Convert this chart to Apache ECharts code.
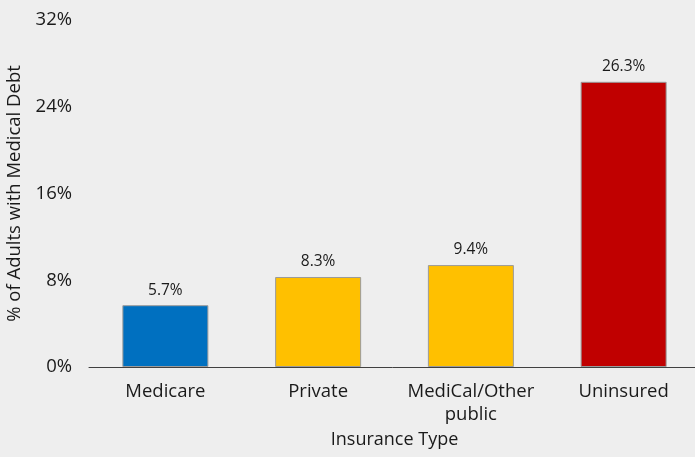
<!DOCTYPE html>
<html>
<head>
<meta charset="UTF-8">
<title>medical debt</title>
<script src="https://cdn.jsdelivr.net/npm/echarts@6/dist/echarts.min.js"></script>
<style>
html, body { margin:0; padding:0; background:#eeeeee; }
#chart { width:695px; height:457px; }
</style>
</head>
<body>
	<div id="chart"></div>
	<script type="text/javascript">
		var categories = ['Medicare', 'Private', 'MediCal/Other\npublic', 'Uninsured'];
		var values = [5.7, 8.3, 9.4, 26.3];
		var barColors = ['#0070c0', '#ffc000', '#ffc000', '#c00000'];
		var yTicks = [0, 8, 16, 24, 32];

		var fontName = '"Open Sans", sans-serif';
		var myChart = echarts.init(document.getElementById('chart'));

		var option = {
			backgroundColor: '#eeeeee',
			animation: false,
			grid: { left: 89, right: -5, top: 20, bottom: 90, containLabel: false, outerBoundsMode: 'none' },
			xAxis: {
				type: 'category',
				data: categories,
				name: 'Insurance Type',
				nameLocation: 'middle',
				nameGap: 63,
				nameTextStyle: { fontFamily: fontName, fontSize: 18, color: '#1a1a1a' },
				axisLine: { lineStyle: { color: '#404040', width: 1 } },
				axisTick: { show: false },
				axisLabel: { fontFamily: fontName, fontSize: 18.5, color: '#1a1a1a', margin: 13, lineHeight: 23, interval: 0 }
			},
			yAxis: {
				type: 'value',
				min: yTicks[0],
				max: yTicks[yTicks.length - 1],
				interval: 8,
				name: '% of Adults with Medical Debt',
				nameLocation: 'middle',
				nameGap: 63,
				nameTextStyle: { fontFamily: fontName, fontSize: 18.5, color: '#1a1a1a' },
				axisLine: { show: false },
				axisTick: { show: false },
				splitLine: { show: false },
				axisLabel: { fontFamily: fontName, fontSize: 18.5, color: '#1a1a1a', margin: 17, formatter: '{value}%' }
			},
			series: [{
				type: 'bar',
				barWidth: 86,
				data: values.map(function (v, i) {
					return { value: v, itemStyle: { color: barColors[i] } };
				}),
				itemStyle: { borderColor: '#9a9a9a', borderWidth: 1 },
				label: {
					show: true,
					position: 'top',
					distance: 7,
					fontFamily: fontName,
					fontSize: 15.5,
					color: '#1a1a1a',
					formatter: function (p) { return p.value.toFixed(1) + '%'; }
				}
			}]
		};

		myChart.setOption(option);
	</script>
</body>
</html>
